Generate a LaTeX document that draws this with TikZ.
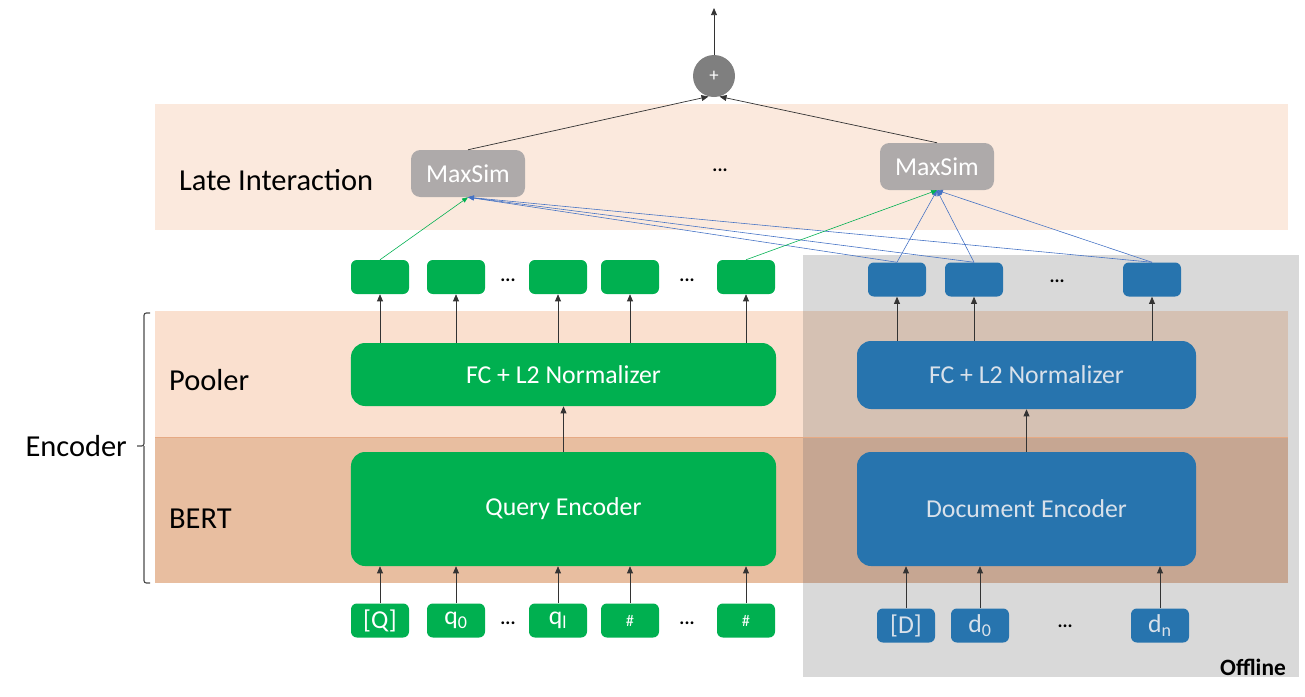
\documentclass[tikz,border=0pt]{standalone}
\usepackage{fontspec}
\setmainfont{Carlito}
\usetikzlibrary{arrows.meta}

\definecolor{qgreen}{HTML}{00B050}
\definecolor{dblue}{HTML}{2774AE}
\definecolor{doctext}{HTML}{D9E1EA}
\definecolor{simgray}{HTML}{AEAAAA}
\definecolor{plusgray}{HTML}{7F7F7F}
\definecolor{lateband}{HTML}{FBE9DD}
\definecolor{poolband}{HTML}{FAE0CF}
\definecolor{bertband}{HTML}{E8BEA0}
\definecolor{poolgray}{HTML}{D5C1B3}
\definecolor{bertgray}{HTML}{C6A692}
\definecolor{offgray}{HTML}{D9D9D9}
\definecolor{linkblue}{HTML}{4472C4}
\definecolor{bandline}{HTML}{E6AA84}

\begin{document}
\begin{tikzpicture}[x=0.03cm, y=-0.03cm,
  tok/.style={rounded corners=5pt, minimum width=1.74cm, minimum height=1.02cm, inner sep=0pt, font=\fontsize{22}{24}\selectfont},
  qtok/.style={tok, fill=qgreen, text=white},
  dtok/.style={tok, fill=dblue, text=doctext},
  bigbox/.style={rounded corners=12pt, inner sep=0pt, font=\fontsize{22}{24}\selectfont},
  qbig/.style={bigbox, fill=qgreen, text=white, minimum width=12.75cm},
  dbig/.style={bigbox, fill=dblue, text=doctext, minimum width=10.17cm},
  sim/.style={rounded corners=8pt, fill=simgray, text=white, minimum width=3.42cm, minimum height=1.41cm, inner sep=0pt, font=\fontsize{22}{24}\selectfont},
  plus/.style={circle, fill=plusgray, text=white, minimum size=1.26cm, inner sep=0pt, font=\fontsize{16}{18}\selectfont},
  dots/.style={font=\bfseries\fontsize{16}{18}\selectfont},
  bandlabel/.style={anchor=west, font=\fontsize{26}{28}\selectfont},
  up/.style={-{Triangle[length=6pt,width=5pt]}, black!80, line width=0.6pt},
  glink/.style={-{Triangle[length=5pt,width=4pt]}, qgreen, line width=0.5pt},
  blink/.style={-{Triangle[length=5pt,width=4pt]}, linkblue, line width=0.5pt}
]
\useasboundingbox (0,0) rectangle (1305,697);

% bands and offline area
\fill[lateband] (155,104) rectangle (1288,230);
\fill[offgray] (803,255) rectangle (1299,677);
\fill[poolband] (155,311) rectangle (803,437);
\fill[poolgray] (803,311) rectangle (1288,437);
\fill[bertband] (155,437) rectangle (803,583);
\fill[bertgray] (803,437) rectangle (1288,583);
\draw[bandline, line width=0.6pt] (155,437) -- (1288,437);

\node[bandlabel] (late) at (175,180) {Late Interaction};
\node[bandlabel] (pool) at (165,380) {Pooler};
\node[bandlabel] (bert) at (165,519) {BERT};
\node[anchor=base east, font=\bfseries\fontsize{20}{22}\selectfont] (off) at (1290,675) {Offline};

% encoder brace
\coordinate (brace) at (137,446);
\draw[black!70, line width=1pt, rounded corners=2pt] (150,313) -| (144,446) -- (brace);
\draw[black!70, line width=1pt, rounded corners=2pt] (150,583) -| (144,446);
\node[anchor=east, font=\fontsize{26}{28}\selectfont] (enc) at (131,446) {Encoder};

% query side
\node[qtok] (qi1) at (380,620.5) {[Q]};
\node[qtok] (qi2) at (456,620.5) {q\textsubscript{0}};
\node[qtok] (qi3) at (558,620.5) {q\textsubscript{l}};
\node[qtok] (qi4) at (630,620.5) {\raisebox{-0.5ex}{\fontsize{14}{14}\selectfont\#}};
\node[qtok] (qi5) at (746,620.5) {\raisebox{-0.5ex}{\fontsize{14}{14}\selectfont\#}};
\node[dots] (qidA) at (508,623) {...};
\node[dots] (qidB) at (687,623) {...};

\node[qbig, minimum height=3.42cm] (qenc) at (563.5,509) {Query Encoder};
\node[qbig, minimum height=1.89cm] (qfc) at (563.5,374.5) {FC + L2 Normalizer};

\node[qtok] (qa) at (380,277) {};
\node[qtok] (qb) at (456,277) {};
\node[qtok] (qc) at (558,277) {};
\node[qtok] (qd) at (630,277) {};
\node[qtok] (qe) at (746,277) {};
\node[dots] (qdA) at (508,280) {...};
\node[dots] (qdB) at (687,280) {...};

% document side
\node[dtok] (di1) at (906,625.5) {[D]};
\node[dtok] (di2) at (980,625.5) {d\textsubscript{0}};
\node[dtok] (di3) at (1160,625.5) {d\textsubscript{n}};
\node[dots] (didA) at (1065,626) {...};

\node[dbig, minimum height=3.42cm] (denc) at (1026.5,509) {Document Encoder};
\node[dbig, minimum height=2.04cm] (dfc) at (1026.5,375) {FC + L2 Normalizer};

\node[dtok] (da) at (897,279.5) {};
\node[dtok] (db) at (974,279.5) {};
\node[dtok] (dc) at (1152,279.5) {};
\node[dots] (ddA) at (1057,281) {...};

% late interaction
\node[sim] (msq) at (468,173.5) {MaxSim};
\node[sim] (msd) at (937,166.5) {MaxSim};
\node[dots] (msdots) at (720,170) {...};
\node[plus] (sum) at (714,76) {+};
\coordinate (out) at (714,8);

% vertical arrows
\draw[up] (qi1.north) -- (qi1.north |- qenc.south);
\draw[up] (qi2.north) -- (qi2.north |- qenc.south);
\draw[up] (qi3.north) -- (qi3.north |- qenc.south);
\draw[up] (qi4.north) -- (qi4.north |- qenc.south);
\draw[up] (qi5.north) -- (qi5.north |- qenc.south);
\draw[up] (di1.north) -- (di1.north |- denc.south);
\draw[up] (di2.north) -- (di2.north |- denc.south);
\draw[up] (di3.north) -- (di3.north |- denc.south);

\draw[up] (qenc.north) -- (qfc.south);
\draw[up] (denc.north) -- (dfc.south);

\draw[up] (qfc.north -| qa) -- (qa.south);
\draw[up] (qfc.north -| qb) -- (qb.south);
\draw[up] (qfc.north -| qc) -- (qc.south);
\draw[up] (qfc.north -| qd) -- (qd.south);
\draw[up] (qfc.north -| qe) -- (qe.south);
\draw[up] (dfc.north -| da) -- (da.south);
\draw[up] (dfc.north -| db) -- (db.south);
\draw[up] (dfc.north -| dc) -- (dc.south);

% maxsim links
\draw[blink] (da.north) -- (msq.south);
\draw[blink] (db.north) -- (msq.south);
\draw[blink] (dc.north) -- (msq.south);
\draw[glink] (qa.north) -- (msq.south);
\draw[blink] (da.north) -- (msd.south);
\draw[blink] (db.north) -- (msd.south);
\draw[blink] (dc.north) -- (msd.south);
\draw[glink] (qe.north) -- (msd.south);

\draw[up] (msq.north) -- (sum.-105);
\draw[up] (msd.north) -- (sum.-75);
\draw[up] (sum) -- (out);
\end{tikzpicture}
\end{document}
